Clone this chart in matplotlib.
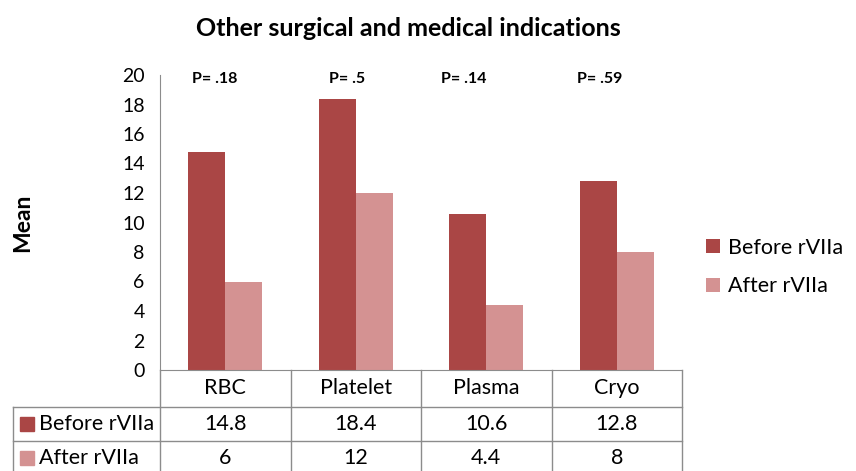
import numpy as np
import matplotlib
matplotlib.use("Agg")
import matplotlib.pyplot as plt
from matplotlib.patches import Rectangle
from matplotlib.transforms import blended_transform_factory

plt.rcParams['font.family'] = ['Lato', 'DejaVu Sans']

categories = ["RBC", "Platelet", "Plasma", "Cryo"]
before = [14.8, 18.4, 10.6, 12.8]
after = [6, 12, 4.4, 8]
series_names = ["Before rVIIa", "After rVIIa"]
p_labels = ["P= .18", "P= .5", "P= .14", "P= .59"]
yticks = [0, 2, 4, 6, 8, 10, 12, 14, 16, 18, 20]

c_before = "#AA4645"
c_after = "#D49292"
grid_c = "#8c8c8c"
fs = 15.5

fig = plt.figure(figsize=(8.56, 4.71), dpi=100)
ax = fig.add_axes([160 / 856, 101 / 471, 522 / 856, 295 / 471])

x = np.arange(len(categories))
w = 0.284
b1 = ax.bar(x - w / 2, before, w, color=c_before, label=series_names[0])
b2 = ax.bar(x + w / 2, after, w, color=c_after, label=series_names[1])

ax.set_xlim(-0.5, len(categories) - 0.5)
ax.set_ylim(0, 20)
ax.set_yticks(yticks)
ax.tick_params(axis='y', length=0, pad=11, labelsize=14)
ax.set_xticks([])
for s in ["top", "right"]:
    ax.spines[s].set_visible(False)
ax.spines["left"].set_color(grid_c)
ax.spines["bottom"].set_color(grid_c)

ax.set_ylabel("Mean", fontsize=16.5, fontweight="bold")
ax.yaxis.set_label_coords(-0.243, 0.50)

# p-values above each group
p_off = [-0.08, -0.07, -0.17, -0.13]
for i, lab in enumerate(p_labels):
    ax.text(i + p_off[i], 19.7, lab, ha="center", va="center",
            fontsize=11.5, fontweight="bold")

fig.text(408 / 856, 1 - 28 / 471, "Other surgical and medical indications",
         ha="center", va="center", fontsize=18, fontweight="bold")

# data table below the axis
tr = blended_transform_factory(ax.transData, ax.transAxes)
r1, r2, r3 = -0.1254, -0.2407, -0.37
left_col = -0.2816
for xb in np.arange(len(categories) + 1) - 0.5:
    ax.plot([xb, xb], [0, r3], transform=tr, color=grid_c, lw=1, clip_on=False)
ax.plot([left_col, left_col], [r1, r3], transform=ax.transAxes,
        color=grid_c, lw=1, clip_on=False)
for yy in [r1, r2]:
    ax.plot([left_col, 1.0], [yy, yy], transform=ax.transAxes,
            color=grid_c, lw=1, clip_on=False)

for i, cat in enumerate(categories):
    ax.text(i, -0.061, cat, transform=tr, ha="center", va="center", fontsize=fs)
    ax.text(i, -0.183, f"{before[i]:g}", transform=tr, ha="center", va="center", fontsize=fs)
    ax.text(i, -0.298, f"{after[i]:g}", transform=tr, ha="center", va="center", fontsize=fs)

for yc, name, col in [(-0.183, series_names[0], c_before), (-0.298, series_names[1], c_after)]:
    ax.add_patch(Rectangle((-0.268, yc - 7 / 295), 14 / 522, 14 / 295,
                           transform=ax.transAxes, color=col, clip_on=False))
    ax.text(-0.232, yc, name, transform=ax.transAxes, ha="left", va="center", fontsize=fs)

ax.legend(handles=[b1, b2], loc="center left", bbox_to_anchor=(1.046, 0.349),
          frameon=False, fontsize=fs, handlelength=0.65, handleheight=0.65,
          handletextpad=0.35, labelspacing=0.86, borderpad=0, borderaxespad=0)

fig.savefig("out.png", dpi=100)
